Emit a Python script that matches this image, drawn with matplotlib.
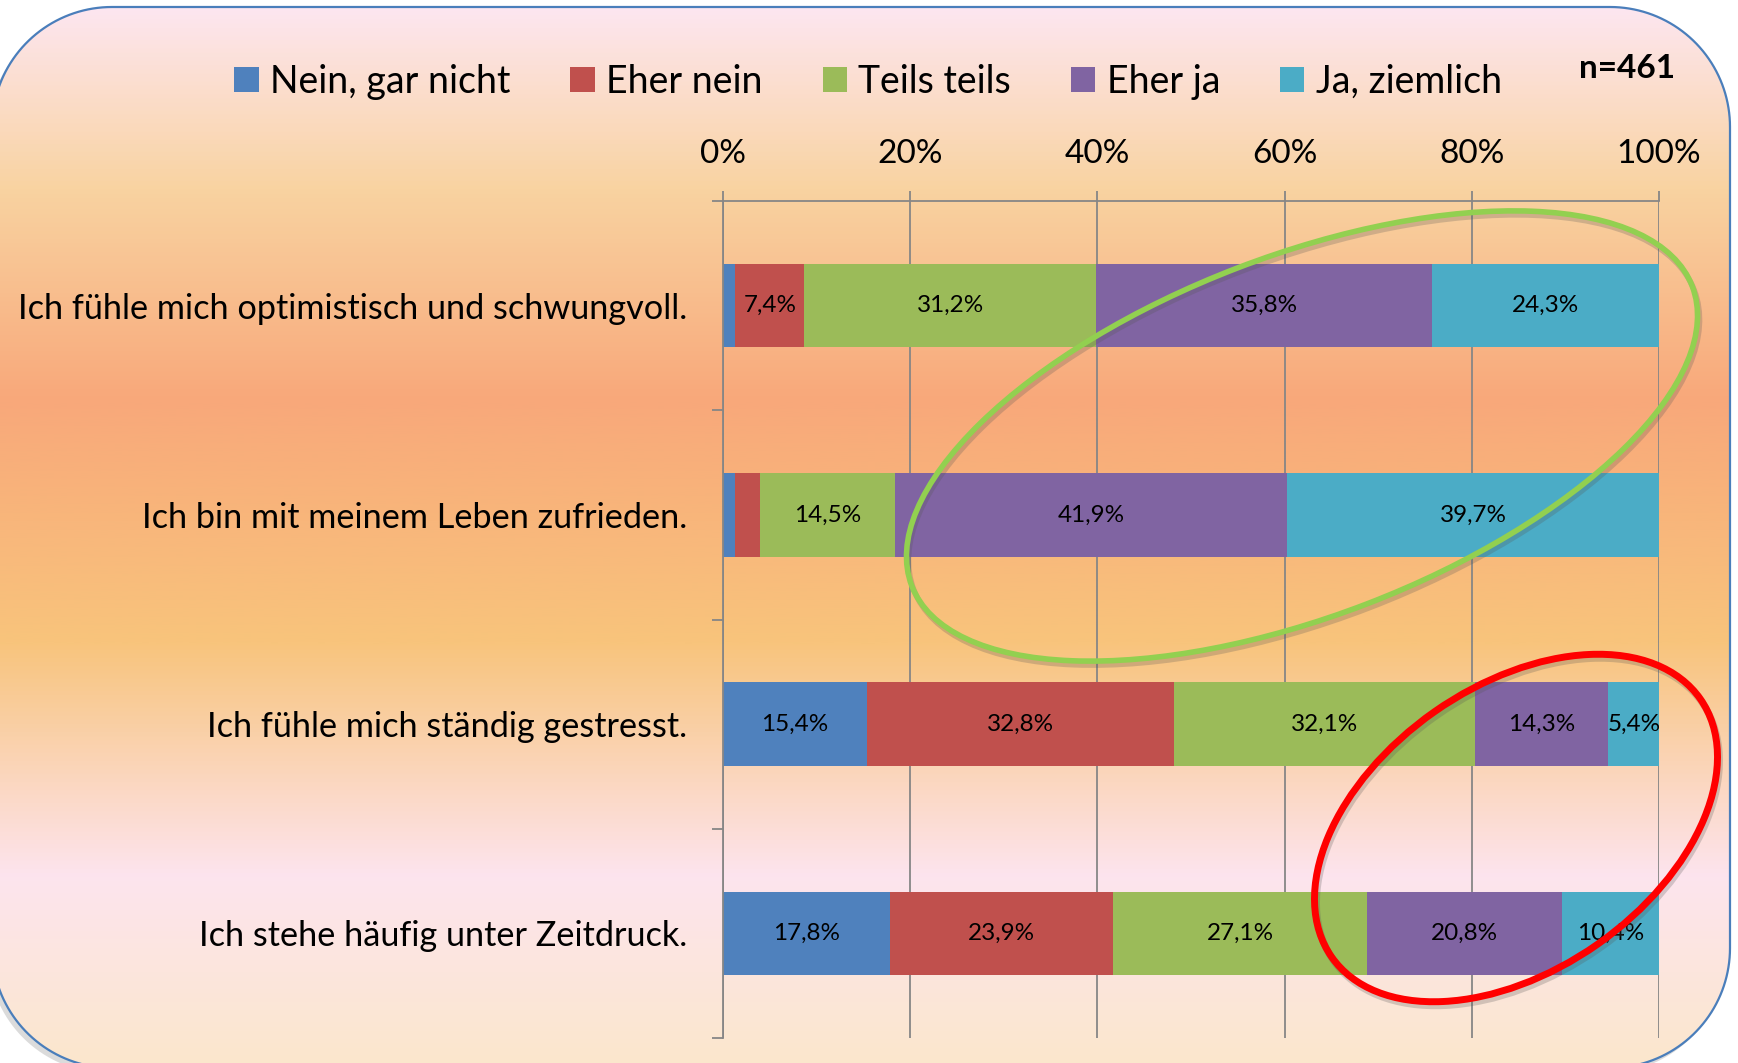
import numpy as np
import matplotlib
matplotlib.use('Agg')
import matplotlib.pyplot as plt
from matplotlib.patches import PathPatch, Ellipse
from matplotlib.path import Path
from matplotlib.colors import LinearSegmentedColormap

plt.rcParams['font.family'] = ['Lato', 'DejaVu Sans']

# data
statements = ['Ich fühle mich optimistisch und schwungvoll.',
              'Ich bin mit meinem Leben zufrieden.',
              'Ich fühle mich ständig gestresst.',
              'Ich stehe häufig unter Zeitdruck.']
answers = ['Nein, gar nicht', 'Eher nein', 'Teils teils', 'Eher ja', 'Ja, ziemlich']
nein_gar_nicht = [1.3, 1.3, 15.4, 17.8]
eher_nein = [7.4, 2.6, 32.8, 23.9]
teils_teils = [31.2, 14.5, 32.1, 27.1]
eher_ja = [35.8, 41.9, 14.3, 20.8]
ja_ziemlich = [24.3, 39.7, 5.4, 10.4]
x_ticks = [0, 20, 40, 60, 80, 100]
n_label = 'n=461'

colors = ['#4F81BD', '#C0504D', '#9BBB59', '#8064A2', '#4BACC6']
series = [nein_gar_nicht, eher_nein, teils_teils, eher_ja, ja_ziemlich]

W, H = 1738, 1063
fig = plt.figure(figsize=(W / 100, H / 100), dpi=100)
fig.patch.set_facecolor('white')


def rounded_rect(x0, y0, x1, y1, r, n=40):
    # corners in order: top-left, top-right, bottom-right, bottom-left (y grows downward)
    pts = []
    for cx, cy, a0 in [(x0 + r, y0 + r, 180), (x1 - r, y0 + r, 270),
                       (x1 - r, y1 - r, 0), (x0 + r, y1 - r, 90)]:
        t = np.radians(np.linspace(a0, a0 + 90, n))
        pts.append(np.column_stack([cx + r * np.cos(t), cy + r * np.sin(t)]))
    pts = np.vstack(pts + [pts[0][:1]])
    return Path(pts, closed=True)


# background panel with gradient
bg = fig.add_axes([0, 0, 1, 1], zorder=0)
bx0, by0, bx1, by1 = -8, 7, 1730, 1068
stops = [(0.00, '#FDE6F0'), (0.17, '#F9D3A1'), (0.37, '#F8A87A'),
         (0.60, '#F8C47C'), (0.82, '#FDE4EE'), (1.00, '#FBE7CC')]
cmap = LinearSegmentedColormap.from_list('bg', stops)
grad = np.linspace(0, 1, 512).reshape(-1, 1)
img = bg.imshow(grad, cmap=cmap, aspect='auto', extent=(bx0, bx1, by1, by0),
                origin='upper', zorder=1)
bg.set_xlim(0, W)
bg.set_ylim(H, 0)
bg.axis('off')

shadow = PathPatch(rounded_rect(bx0 - 4, by0 + 5, bx1 - 4, by1 + 5, 120),
                   facecolor='#999999', edgecolor='none', alpha=0.35, zorder=0)
bg.add_patch(shadow)
panel = PathPatch(rounded_rect(bx0, by0, bx1, by1, 120),
                  facecolor='none', edgecolor='#4A7EBB', linewidth=1.6, zorder=3)
bg.add_patch(panel)
img.set_clip_path(panel)

# main chart
ax = fig.add_axes([723 / W, 1 - 1038 / H, 936 / W, 837 / H], zorder=1)
ax.patch.set_alpha(0)
y = np.arange(len(statements))
left = np.zeros(len(statements))
for name, vals, c in zip(answers, series, colors):
    ax.barh(y, vals, left=left, height=0.4, color=c, label=name, zorder=2)
    for yi, l, v in zip(y, left, vals):
        if v > 4:
            ax.text(l + v / 2, yi, f'{v:.1f}%'.replace('.', ','),
                    ha='center', va='center', fontsize=17.5, color='black', zorder=3)
    left += np.array(vals)

ax.set_xlim(0, 100)
ax.set_ylim(len(statements) - 0.5, -0.5)
ax.xaxis.tick_top()
ax.set_xticks(x_ticks)
ax.set_xticklabels([f'{t}%' for t in x_ticks], fontsize=24)
ax.tick_params(axis='x', direction='out', length=7, color='#868686', width=1.3, pad=16)
ax.set_yticks(y)
ax.set_yticklabels(statements, fontsize=24.7)
ax.tick_params(axis='y', which='major', length=0, pad=26)
ax.set_yticks(np.arange(-0.5, len(statements)), minor=True)
ax.tick_params(axis='y', which='minor', direction='out', length=8, color='#868686', width=1.3)
ax.grid(axis='x', color='#868686', linewidth=1.3, zorder=1)
ax.set_axisbelow(True)
for s in ['right', 'bottom']:
    ax.spines[s].set_visible(False)
for s in ['top', 'left']:
    ax.spines[s].set_color('#868686')
    ax.spines[s].set_linewidth(1.3)

handles, labels = ax.get_legend_handles_labels()
fig.legend(handles, labels, loc='center', bbox_to_anchor=(0.4995, 1 - 82 / H), ncol=5,
           frameon=False, fontsize=27, handlelength=0.65, handleheight=0.65,
           handletextpad=0.3, columnspacing=1.6)
fig.text(1627 / W, 1 - 69 / H, n_label, ha='center', va='center',
         fontsize=24, fontweight='bold')

# highlight ellipses
ov = fig.add_axes([0, 0, 1, 1], zorder=3)
ov.set_xlim(0, W)
ov.set_ylim(H, 0)
ov.axis('off')
for (cx, cy), a, b, ang, col, lw in [((1302, 436), 418, 180, -21, '#92D050', 4.0),
                                     ((1516, 828), 225, 142, -35, '#FF0000', 5.0)]:
    ov.add_patch(Ellipse((cx + 2, cy + 4), 2 * a, 2 * b, angle=ang, fill=False,
                         edgecolor='#555555', alpha=0.25, linewidth=lw))
    ov.add_patch(Ellipse((cx, cy), 2 * a, 2 * b, angle=ang, fill=False,
                         edgecolor=col, linewidth=lw))

fig.savefig('out.png', dpi=100)
